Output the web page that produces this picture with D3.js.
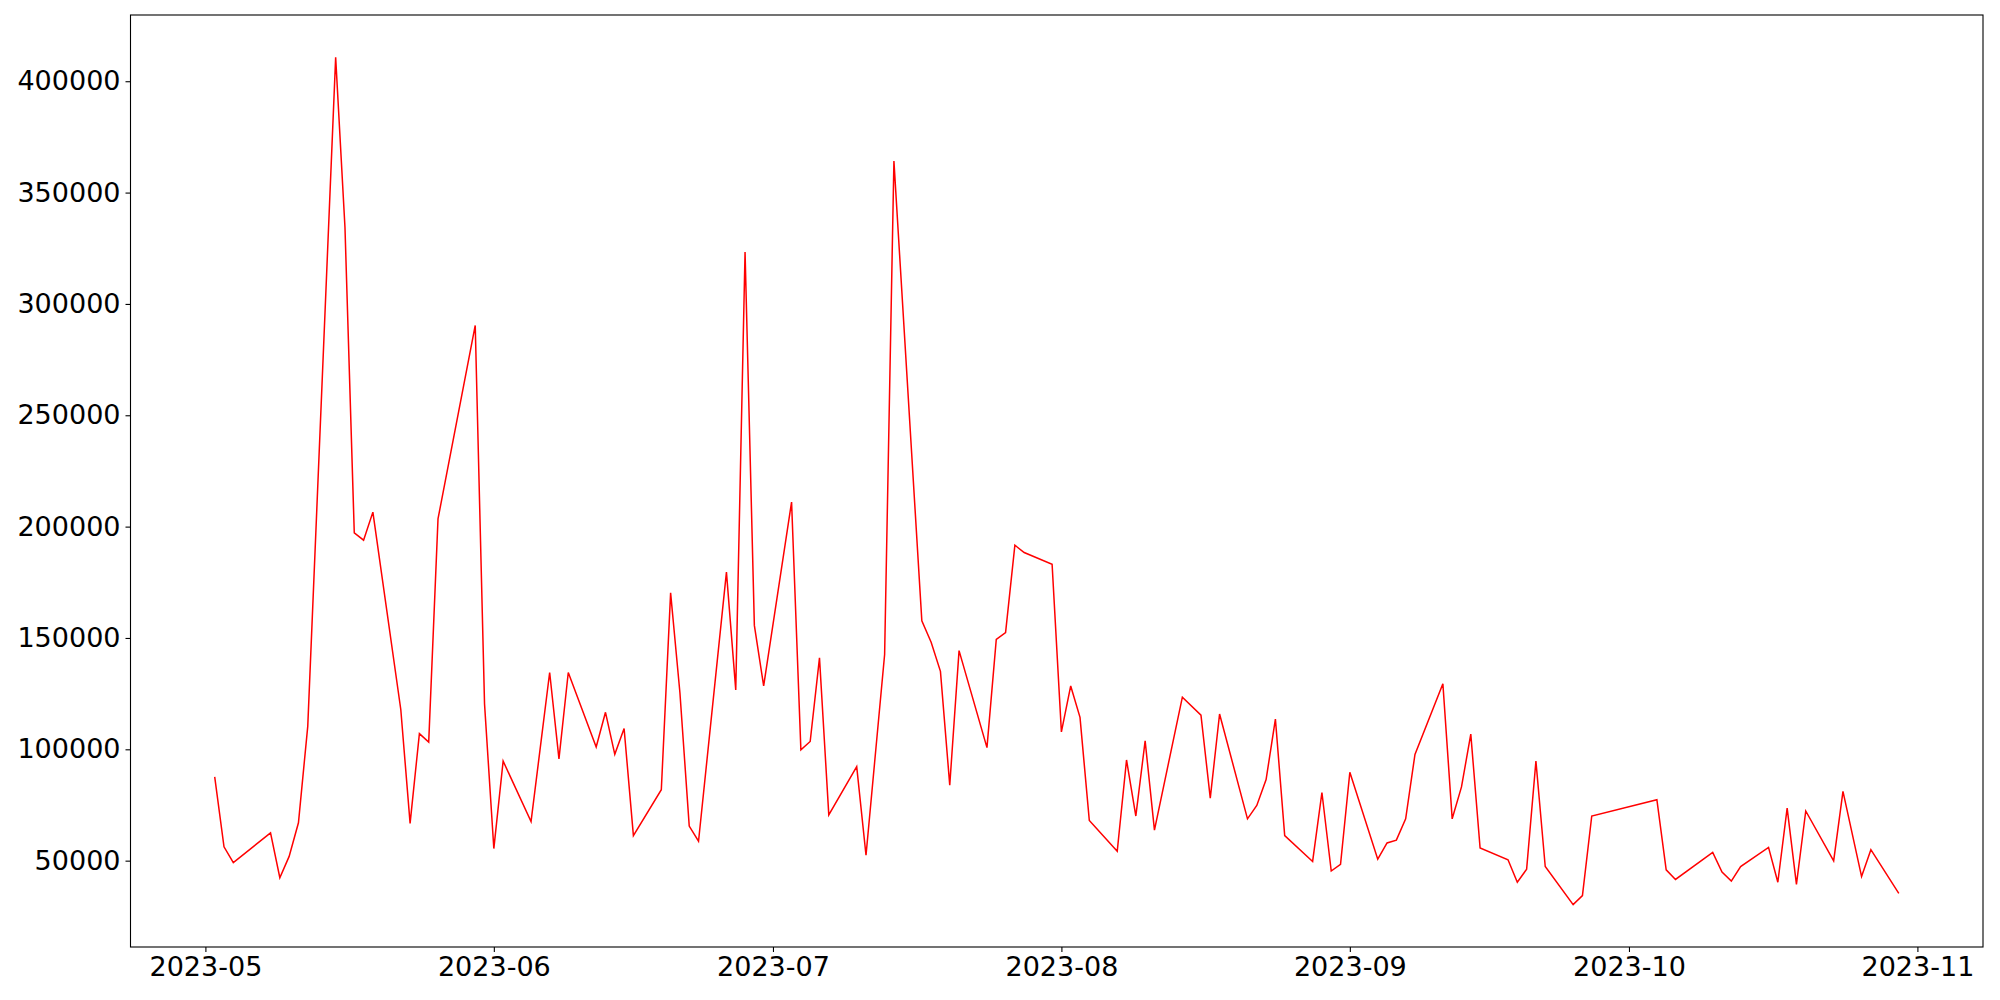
<!DOCTYPE html>
<html>
<head>
<meta charset="utf-8">
<script src="https://cdn.jsdelivr.net/npm/d3@7"></script>
<style>
	body { margin: 0; background: #fff; }
	#chart svg { display: block; font-family: "DejaVu Sans", sans-serif; }
</style>
</head>
<body>
<div id="chart"></div>
<script>
var dates = [
	"2023-05-02","2023-05-03","2023-05-04","2023-05-08","2023-05-09","2023-05-10","2023-05-11","2023-05-12",
	"2023-05-15","2023-05-16","2023-05-17","2023-05-18","2023-05-19","2023-05-22","2023-05-23","2023-05-24",
	"2023-05-25","2023-05-26","2023-05-30","2023-05-31","2023-06-01","2023-06-02","2023-06-05","2023-06-07",
	"2023-06-08","2023-06-09","2023-06-12","2023-06-13","2023-06-14","2023-06-15","2023-06-16","2023-06-19",
	"2023-06-20","2023-06-21","2023-06-22","2023-06-23","2023-06-26","2023-06-27","2023-06-28","2023-06-29",
	"2023-06-30","2023-07-03","2023-07-04","2023-07-05","2023-07-06","2023-07-07","2023-07-10","2023-07-11",
	"2023-07-13","2023-07-14","2023-07-17","2023-07-18","2023-07-19","2023-07-20","2023-07-21","2023-07-24",
	"2023-07-25","2023-07-26","2023-07-27","2023-07-28","2023-07-31","2023-08-01","2023-08-02","2023-08-03",
	"2023-08-04","2023-08-07","2023-08-08","2023-08-09","2023-08-10","2023-08-11","2023-08-14","2023-08-16",
	"2023-08-17","2023-08-18","2023-08-21","2023-08-22","2023-08-23","2023-08-24","2023-08-25","2023-08-28",
	"2023-08-29","2023-08-30","2023-08-31","2023-09-01","2023-09-04","2023-09-05","2023-09-06","2023-09-07",
	"2023-09-08","2023-09-11","2023-09-12","2023-09-13","2023-09-14","2023-09-15","2023-09-18","2023-09-19",
	"2023-09-20","2023-09-21","2023-09-22","2023-09-25","2023-09-26","2023-09-27","2023-10-04","2023-10-05",
	"2023-10-06","2023-10-10","2023-10-11","2023-10-12","2023-10-13","2023-10-16","2023-10-17","2023-10-18",
	"2023-10-19","2023-10-20","2023-10-23","2023-10-24","2023-10-26","2023-10-27","2023-10-30"
];

var values = [
	87660, 56190, 49140, 62480, 42340, 51900, 67010, 110320,
	410720, 334430, 197200, 193920, 206510, 117880, 66760, 107050,
	103270, 203490, 290360, 120400, 55430, 94710, 67520, 134500,
	95720, 134500, 101010, 116620, 97730, 109320, 61220, 81870,
	170250, 125400, 65500, 58710, 179570, 126690, 323350, 155650,
	128450, 211040, 99750, 103520, 141040, 70540, 92190, 52410,
	142550, 364140, 157660, 148090, 135000, 83890, 144320, 100760,
	149350, 152370, 191650, 188380, 183090, 107810, 128450, 114350,
	68020, 54170, 95220, 70040, 103780, 63740, 123420, 115360,
	78090, 115860, 68780, 74820, 86400, 113600, 61220, 49640,
	80610, 45360, 48380, 89680, 50650, 57950, 59210, 68780,
	97730, 129460, 68780, 83130, 106800, 55680, 50400, 40320,
	46120, 94710, 47370, 30250, 34280, 70040, 77340, 45860,
	41580, 53670, 44860, 40830, 47370, 55940, 40320, 73560,
	39320, 72300, 49890, 81120, 42840, 54930, 35290
];

var yTicks = [50000, 100000, 150000, 200000, 250000, 300000, 350000, 400000];
var xTicks = ["2023-05-01","2023-06-01","2023-07-01","2023-08-01","2023-09-01","2023-10-01","2023-11-01"];

var parseDay = d3.utcParse("%Y-%m-%d");
var width = 2000, height = 1000;
var margin = {top: 15, right: 17, bottom: 53, left: 130.5};
var innerW = width - margin.left - margin.right, innerH = height - margin.top - margin.bottom;

var data = dates.map(function(d, i) { return {date: parseDay(d), value: values[i]}; });

// matplotlib style 5% padding around the data
var xExt = d3.extent(data, function(d) { return d.date; });
var xPad = (xExt[1] - xExt[0]) * 0.05;
var yExt = d3.extent(data, function(d) { return d.value; });
var yPad = (yExt[1] - yExt[0]) * 0.05;

var x = d3.scaleUtc()
	.domain([new Date(+xExt[0] - xPad), new Date(+xExt[1] + xPad)])
	.range([0, innerW]);
var y = d3.scaleLinear()
	.domain([yExt[0] - yPad, yExt[1] + yPad])
	.range([innerH, 0]);

var svg = d3.select("#chart").append("svg")
	.attr("width", width)
	.attr("height", height)
	.append("g")
	.attr("transform", "translate(" + margin.left + "," + margin.top + ")");

var xAxis = svg.append("g")
	.attr("transform", "translate(0," + innerH + ")")
	.call(d3.axisBottom(x)
		.tickValues(xTicks.map(parseDay))
		.tickFormat(d3.utcFormat("%Y-%m"))
		.tickSizeInner(5).tickSizeOuter(0).tickPadding(5));

var yAxis = svg.append("g")
	.call(d3.axisLeft(y)
		.tickValues(yTicks)
		.tickFormat(d3.format("d"))
		.tickSizeInner(5).tickSizeOuter(0).tickPadding(5));

[xAxis, yAxis].forEach(function(a) {
	a.select(".domain").remove();
	a.selectAll("line").attr("stroke", "#000").attr("stroke-width", 1.1);
	a.selectAll("text").attr("fill", "#000").style("font-size", "27px").style("font-family", "DejaVu Sans, sans-serif");
});

svg.append("rect")
	.attr("width", innerW)
	.attr("height", innerH)
	.attr("fill", "none")
	.attr("stroke", "#000")
	.attr("stroke-width", 1.1);

var line = d3.line()
	.x(function(d) { return x(d.date); })
	.y(function(d) { return y(d.value); });

svg.append("path")
	.datum(data)
	.attr("fill", "none")
	.attr("stroke", "red")
	.attr("stroke-width", 1.5)
	.attr("stroke-linejoin", "miter")
	.attr("d", line);
</script>
</body>
</html>
